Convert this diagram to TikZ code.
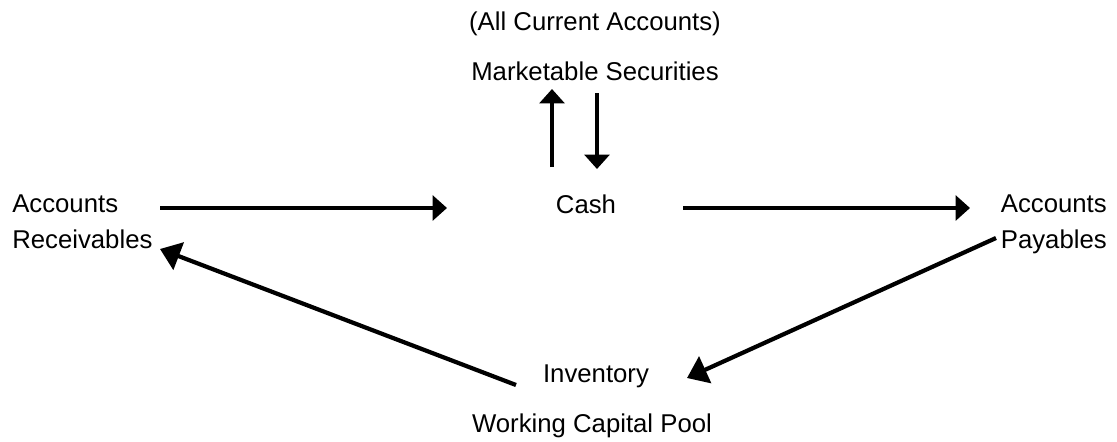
\documentclass[tikz,border=0pt]{standalone}
\usepackage{fontspec}
\setmainfont{Liberation Sans}
\usetikzlibrary{arrows.meta}
\tikzset{
  lbl/.style={inner sep=0pt, font=\fontsize{18.3}{22}\selectfont},
  flow/.style={line width=3pt, -{Triangle[length=0.36cm, width=0.62cm]}},
  bigflow/.style={line width=3pt, -{Triangle[length=0.5cm, width=0.72cm]}}
}
\begin{document}
\begin{tikzpicture}[x=0.025cm, y=-0.025cm]
\useasboundingbox (0,0) rectangle (1117,441);
%%% the accounts of the pool
\node[lbl, anchor=base] (allcur) at (595, 30) {(All Current Accounts)};
\node[lbl, anchor=base] (mktsec) at (595, 80) {Marketable Securities};
\node[lbl, anchor=base] (cash) at (586, 213) {Cash};
\node[lbl, anchor=base west] (recvA) at (12, 212) {Accounts};
\node[lbl, anchor=base west] (recvB) at (12, 248) {Receivables};
\node[lbl, anchor=base east] (payA) at (1107, 212) {Accounts};
\node[lbl, anchor=base east] (payB) at (1107, 248) {Payables};
\node[lbl, anchor=base] (inv) at (596, 382) {Inventory};
\node[lbl, anchor=base] (pool) at (592, 432) {Working Capital Pool};
%
%%% ends of the arrows
\coordinate (upS) at (552, 167);
\coordinate (upE) at (552, 89);
\coordinate (dnS) at (597, 93);
\coordinate (dnE) at (597, 169);
\coordinate (rcS) at (160, 208);
\coordinate (rcE) at (447, 208);
\coordinate (csS) at (683, 208);
\coordinate (csE) at (970, 208);
\coordinate (pyS) at (996, 238);
\coordinate (pyE) at (687, 378);
\coordinate (ivS) at (516, 385);
\coordinate (ivE) at (160, 249);
%
\draw[flow] (upS) -- (upE);
\draw[flow] (dnS) -- (dnE);
\draw[flow] (rcS) -- (rcE);
\draw[flow] (csS) -- (csE);
\draw[bigflow] (pyS) -- (pyE);
\draw[bigflow] (ivS) -- (ivE);
\end{tikzpicture}
\end{document}
